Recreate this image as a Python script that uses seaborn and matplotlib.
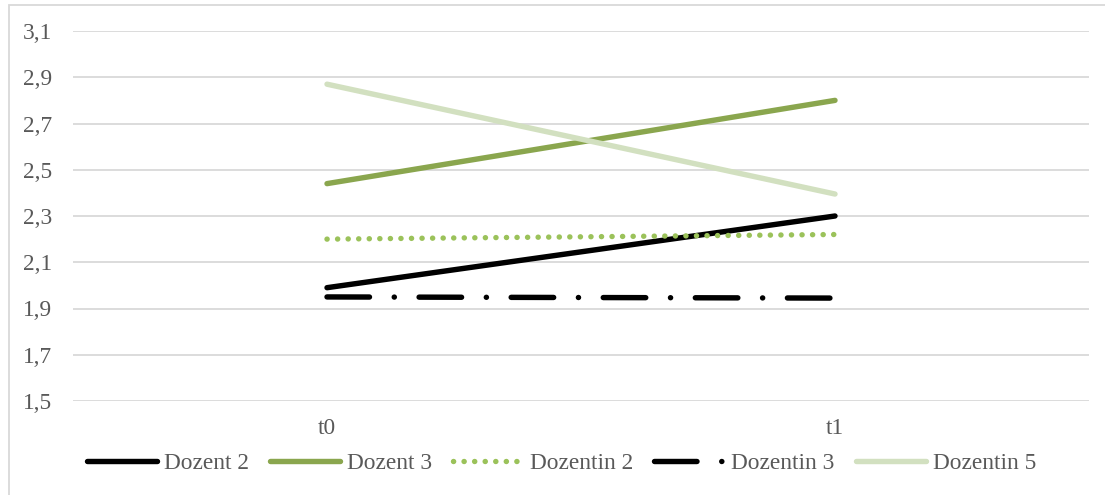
import matplotlib
matplotlib.use("Agg")
import matplotlib.pyplot as plt
from matplotlib.patches import Rectangle
from matplotlib.ticker import FixedLocator, FuncFormatter
import seaborn as sns
import pandas as pd

# Mean ratings per lecturer at the two measurement points
zeitpunkte = ["t0", "t1"]
dozent_2 = [1.99, 2.30]
dozent_3 = [2.44, 2.80]
dozentin_2 = [2.20, 2.22]
dozentin_3 = [1.95, 1.945]
dozentin_5 = [2.87, 2.395]

serien = ["Dozent 2", "Dozent 3", "Dozentin 2", "Dozentin 3", "Dozentin 5"]
y_ticks = [1.5, 1.7, 1.9, 2.1, 2.3, 2.5, 2.7, 2.9, 3.1]

werte = [dozent_2, dozent_3, dozentin_2, dozentin_3, dozentin_5]
df = pd.DataFrame(
    [(s, t, v) for s, vals in zip(serien, werte) for t, v in zip(zeitpunkte, vals)],
    columns=["Person", "Zeitpunkt", "Wert"],
)

sns.set_theme(style="white")
plt.rcParams["font.family"] = ["Liberation Serif", "DejaVu Serif"]
plt.rcParams["lines.scale_dashes"] = False

farben = {
    "Dozent 2": "#000000",
    "Dozent 3": "#8AA64E",
    "Dozentin 2": "#9BC25A",
    "Dozentin 3": "#000000",
    "Dozentin 5": "#D2E0C0",
}
stile = {
    "Dozent 2": "-",
    "Dozent 3": "-",
    "Dozentin 2": (0, (0.1, 7.5)),
    "Dozentin 3": (0, (30.6, 17.8, 0.1, 17.8)),
    "Dozentin 5": "-",
}
lw = 3.9
textfarbe = "#595959"
fs = 16.8

fig = plt.figure(figsize=(11.05, 4.95), dpi=100)
ax = fig.add_axes([73 / 1105, 1 - 401 / 495, (1089 - 73) / 1105, (401 - 31) / 495])

handles = []
for name in serien:
    sub = df[df["Person"] == name]
    sns.lineplot(data=sub, x="Zeitpunkt", y="Wert", ax=ax, color=farben[name],
                 linewidth=lw, legend=False, sort=False)
    line = ax.lines[-1]
    line.set_linestyle(stile[name])
    line.set_solid_capstyle("round")
    line.set_dash_capstyle("round")
    handles.append(line)

ax.set_xlim(-0.5, 1.5)
ax.set_ylim(1.5, 3.1)
ax.yaxis.set_major_locator(FixedLocator(y_ticks))
ax.yaxis.set_major_formatter(FuncFormatter(lambda v, p: f"{v:.1f}".replace(".", ",")))
ax.set_xlabel("")
ax.set_ylabel("")
ax.grid(axis="y", color="#D9D9D9", linewidth=1.3)
ax.grid(axis="x", visible=False)
ax.set_axisbelow(True)
for sp in ax.spines.values():
    sp.set_visible(False)
ax.tick_params(axis="y", length=0, pad=15, labelsize=fs, labelcolor=textfarbe)
ax.tick_params(axis="x", length=0, pad=12, labelsize=fs, labelcolor=textfarbe)

# Chart frame
fig.patches.append(Rectangle((9 / 1105, -0.1), 1.2, 1 - 5 / 495 + 0.1,
                             transform=fig.transFigure, fill=False,
                             edgecolor="#D9D9D9", linewidth=1.3))

leg = fig.legend(handles, serien, loc="center", bbox_to_anchor=(0.508, 0.064),
                 ncol=5, frameon=False, fontsize=fs, handlelength=3.0,
                 handletextpad=0.3, columnspacing=0.9, labelcolor=textfarbe)

fig.savefig("out.png", dpi=100, facecolor="white")
